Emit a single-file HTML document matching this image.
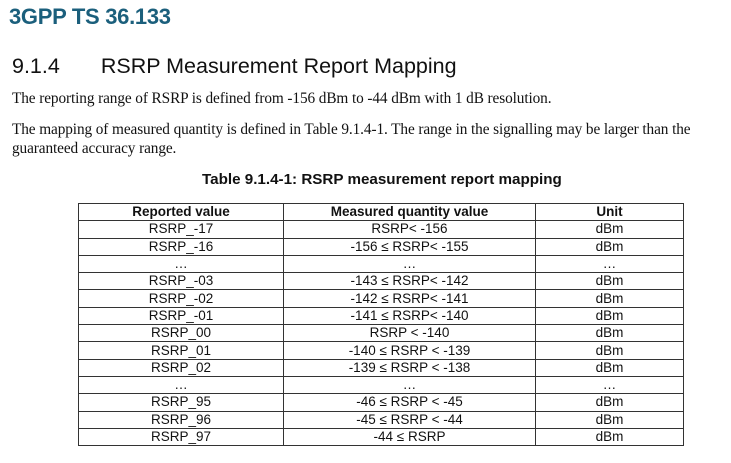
<!DOCTYPE html>
<html><head><meta charset="utf-8"><style>
body{margin:0;width:731px;height:463px;background:#fff;position:relative;overflow:hidden;color:#111}
.a{position:absolute;white-space:nowrap}
#brand{left:9px;top:4px;font:bold 22px "Liberation Sans",sans-serif;color:#1b5f7c;letter-spacing:-0.3px}
#hd{left:12px;top:54px;font:21.5px "Liberation Sans",sans-serif;color:#111}
.p{font:15.3px "Liberation Serif",serif;left:12px;letter-spacing:-0.1px}
#cap{left:202px;top:171px;font:bold 15.2px "Liberation Sans",sans-serif}
table{position:absolute;left:78px;top:203px;border-collapse:collapse;font:13.5px "Liberation Sans",sans-serif}
td,th{border:1px solid #333;height:16.3px;padding:0;text-align:center;line-height:16px}
th{font-weight:bold}
</style></head><body>
<div class="a" id="brand">3GPP TS 36.133</div>
<div class="a" id="hd">9.1.4<span style="display:inline-block;width:41px"></span>RSRP Measurement Report Mapping</div>
<div class="a p" style="top:90px">The reporting range of RSRP is defined from -156 dBm to -44 dBm with 1 dB resolution.</div>
<div class="a p" style="top:121px">The mapping of measured quantity is defined in Table 9.1.4-1. The range in the signalling may be larger than the</div>
<div class="a p" style="top:140px">guaranteed accuracy range.</div>
<div class="a" id="cap">Table 9.1.4-1: RSRP measurement report mapping</div>
<table>
<colgroup><col style="width:205px"><col style="width:252px"><col style="width:148px"></colgroup>
<tr><th>Reported value</th><th>Measured quantity value</th><th>Unit</th></tr>
<tr><td>RSRP_-17</td><td>RSRP&lt; -156</td><td>dBm</td></tr>
<tr><td>RSRP_-16</td><td>-156 ≤ RSRP&lt; -155</td><td>dBm</td></tr>
<tr><td>…</td><td>…</td><td>…</td></tr>
<tr><td>RSRP_-03</td><td>-143 ≤ RSRP&lt; -142</td><td>dBm</td></tr>
<tr><td>RSRP_-02</td><td>-142 ≤ RSRP&lt; -141</td><td>dBm</td></tr>
<tr><td>RSRP_-01</td><td>-141 ≤ RSRP&lt; -140</td><td>dBm</td></tr>
<tr><td>RSRP_00</td><td>RSRP &lt; -140</td><td>dBm</td></tr>
<tr><td>RSRP_01</td><td>-140 ≤ RSRP &lt; -139</td><td>dBm</td></tr>
<tr><td>RSRP_02</td><td>-139 ≤ RSRP &lt; -138</td><td>dBm</td></tr>
<tr><td>…</td><td>…</td><td>…</td></tr>
<tr><td>RSRP_95</td><td>-46 ≤ RSRP &lt; -45</td><td>dBm</td></tr>
<tr><td>RSRP_96</td><td>-45 ≤ RSRP &lt; -44</td><td>dBm</td></tr>
<tr><td>RSRP_97</td><td>-44 ≤ RSRP</td><td>dBm</td></tr>
</table>
</body></html>
